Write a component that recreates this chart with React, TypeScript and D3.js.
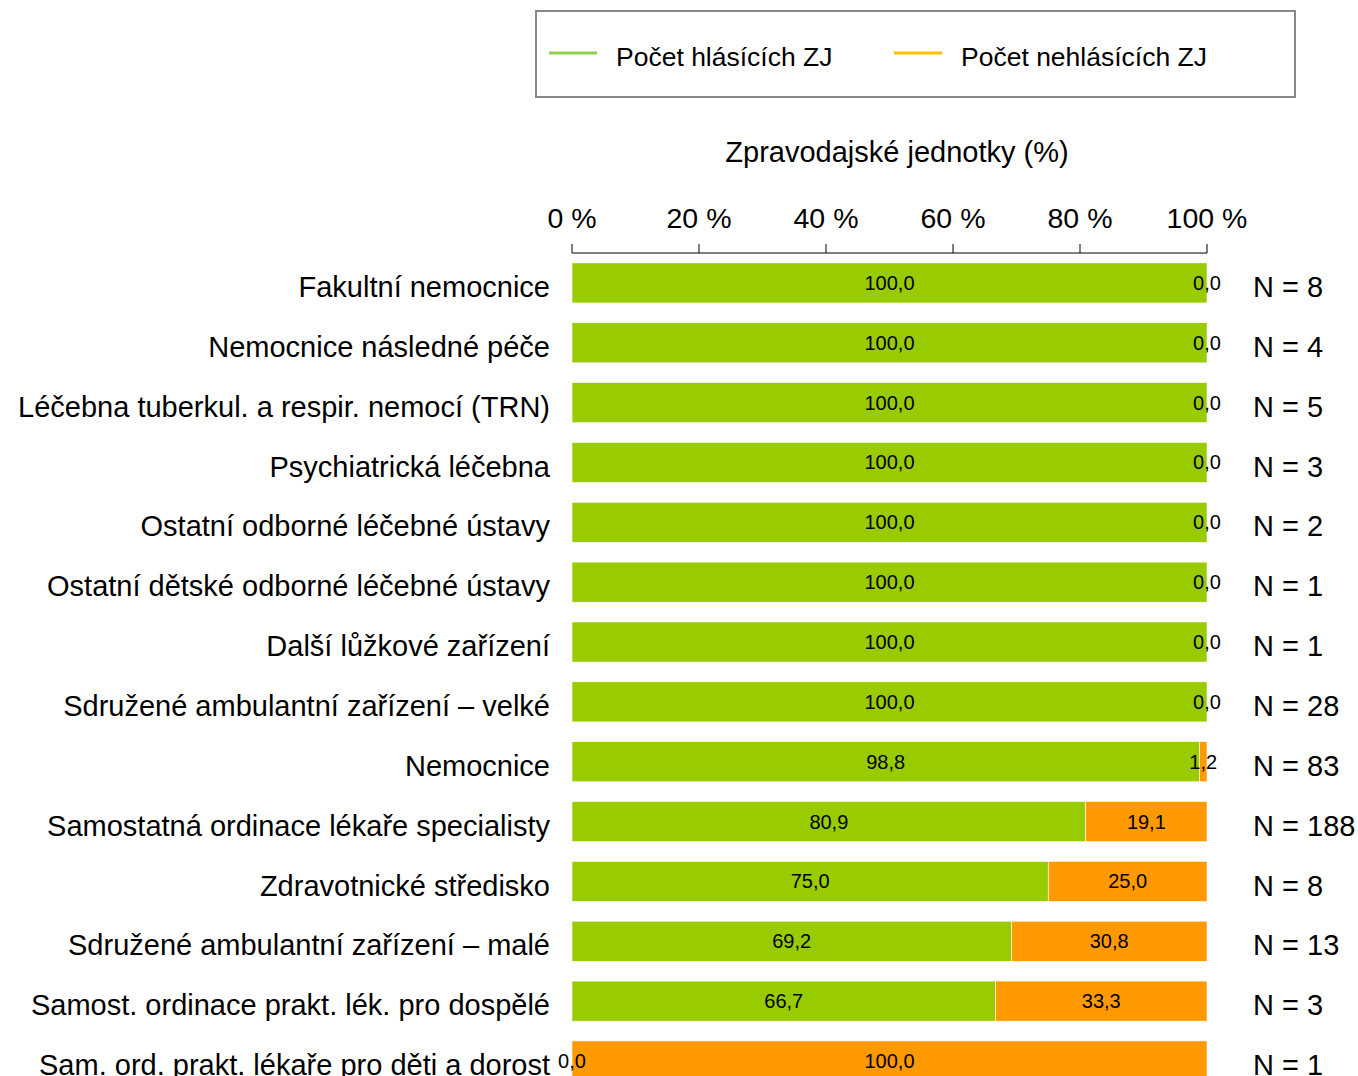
import * as d3 from 'd3';

const categories = [
  'Fakultní nemocnice',
  'Nemocnice následné péče',
  'Léčebna tuberkul. a respir. nemocí (TRN)',
  'Psychiatrická léčebna',
  'Ostatní odborné léčebné ústavy',
  'Ostatní dětské odborné léčebné ústavy',
  'Další lůžkové zařízení',
  'Sdružené ambulantní zařízení – velké',
  'Nemocnice',
  'Samostatná ordinace lékaře specialisty',
  'Zdravotnické středisko',
  'Sdružené ambulantní zařízení – malé',
  'Samost. ordinace prakt. lék. pro dospělé',
  'Sam. ord. prakt. lékaře pro děti a dorost',
];
const reporting = [100, 100, 100, 100, 100, 100, 100, 100, 98.8, 80.9, 75.0, 69.2, 66.7, 0.0];
const notReporting = [0, 0, 0, 0, 0, 0, 0, 0, 1.2, 19.1, 25.0, 30.8, 33.3, 100.0];
const counts = [8, 4, 5, 3, 2, 1, 1, 28, 83, 188, 8, 13, 3, 1];
const ticks = [0, 20, 40, 60, 80, 100];

const seriesNames = ['Počet hlásících ZJ', 'Počet nehlásících ZJ'];
const barColors = ['#99cc00', '#ff9900'];
const legendColors = ['#92d050', '#ffc000'];

const width = 1358;
const height = 1076;
const font = 'Liberation Sans, Arial, sans-serif';

function App() {
  const x = d3.scaleLinear([0, 100], [572, 1207]);
  const y = d3
    .scaleBand<string>()
    .domain(categories)
    .range([253, 253 + 14 * 59.85])
    .paddingInner(0.33)
    .paddingOuter(0.165);

  const rows = categories.map((c, i) => ({ c, v: [reporting[i], notReporting[i]], n: counts[i] }));
  const stack = d3
    .stack<{ c: string; v: number[]; n: number }, number>()
    .keys([0, 1])
    .value((d, k) => d.v[k]);
  const layers = stack(rows);
  const fmt = (v: number) => v.toFixed(1).replace('.', ',');
  const axisY = 253;
  const mid = (c: string) => (y(c) ?? 0) + y.bandwidth() / 2;

  return (
    <svg width={width} height={height} style={{ position: 'absolute', left: 0, top: 0 }} fontFamily={font}>
      {/* legend */}
      <rect x={536} y={11} width={759} height={86} fill="#fff" stroke="#888" strokeWidth={2} />
      {seriesNames.map((s, i) => (
        <g key={s} transform={`translate(${549 + i * 345},53)`}>
          <line x1={0} x2={48} y1={0} y2={0} stroke={legendColors[i]} strokeWidth={3} />
          <text x={67} y={4} dy="0.35em" fontSize={26.5} fill="#000">{s}</text>
        </g>
      ))}

      {/* axis title */}
      <text x={897} y={152} dy="0.35em" textAnchor="middle" fontSize={29} fill="#000">
        Zpravodajské jednotky (%)
      </text>

      {/* top axis */}
      <line x1={x(0)} x2={x(100)} y1={axisY} y2={axisY} stroke="#000" strokeWidth={1} />
      {ticks.map((t) => (
        <g key={t}>
          <line x1={x(t)} x2={x(t)} y1={axisY} y2={axisY - 9} stroke="#000" strokeWidth={1} />
          <text x={x(t)} y={218} dy="0.35em" textAnchor="middle" fontSize={28.5} fill="#000">
            {t} %
          </text>
        </g>
      ))}

      {/* bars */}
      {layers.map((layer, li) => (
        <g key={li}>
          {layer.map((d) => (
            <rect
              key={d.data.c}
              x={x(d[0])}
              y={y(d.data.c)}
              width={x(d[1]) - x(d[0])}
              height={y.bandwidth()}
              fill={barColors[li]}
              stroke="#fff"
              strokeWidth={0.6}
            />
          ))}
        </g>
      ))}
      {layers.map((layer, li) => (
        <g key={'l' + li}>
          {layer.map((d) => (
            <text
              key={d.data.c}
              x={(x(d[0]) + x(d[1])) / 2}
              y={mid(d.data.c)}
              dy="0.35em"
              textAnchor="middle"
              fontSize={20}
              fill="#000"
            >
              {fmt(d.data.v[li])}
            </text>
          ))}
        </g>
      ))}

      {/* category labels */}
      {categories.map((c) => (
        <text key={c} x={550} y={mid(c) + 4} dy="0.35em" textAnchor="end" fontSize={29} fill="#000">
          {c}
        </text>
      ))}

      {/* N labels */}
      {rows.map((r) => (
        <text key={r.c} x={1253} y={mid(r.c) + 4} dy="0.35em" fontSize={29} fill="#000">
          N = {r.n}
        </text>
      ))}
    </svg>
  );
}

export default App;
